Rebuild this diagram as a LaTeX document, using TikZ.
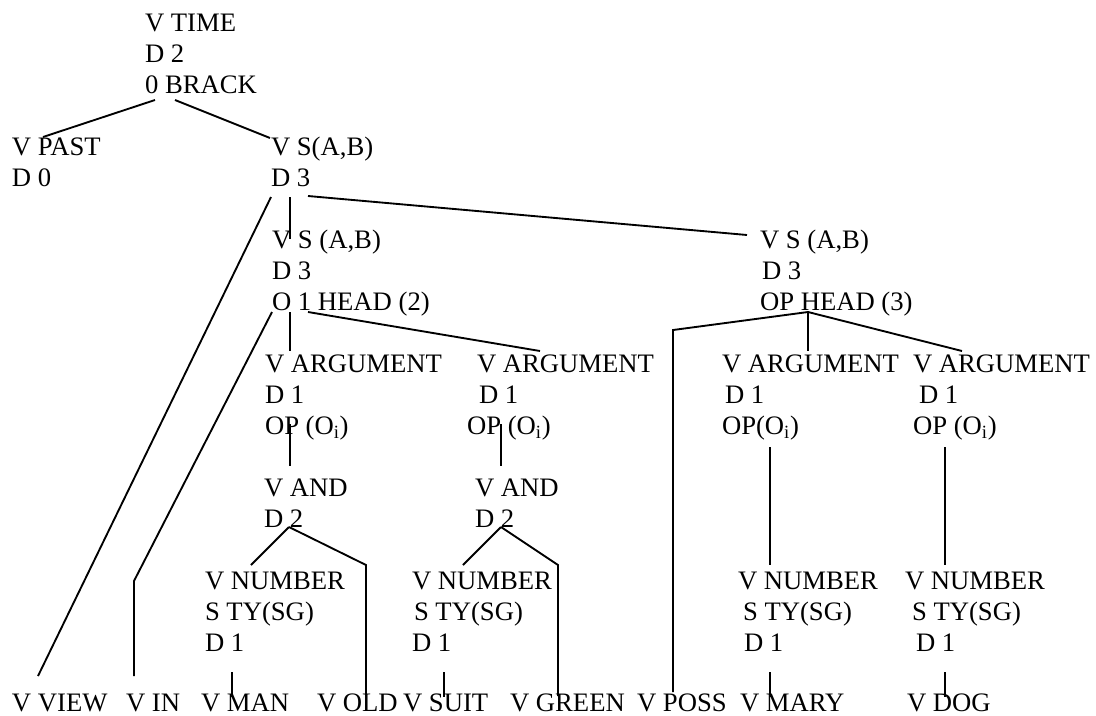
\documentclass[tikz,border=0pt]{standalone}
\usepackage{fontspec}
\setmainfont{Liberation Serif}
% one unit = one pixel of a 96 dpi page, y pointing down
\tikzset{
  lbl/.style={anchor=base west, inner sep=0pt, outer sep=0pt,
              font=\fontsize{20}{23.25}\selectfont},
  edge/.style={line width=1.4pt, line join=miter, line cap=butt}
}
% stacked lines of a tree node, baseline at the first line
\newcommand\stack[1]{\begin{tabular}[t]{@{}l@{}}#1\end{tabular}}
\newcommand\Oi{(O\textsubscript{i})}
\newcommand\px[1]{\hspace*{#1\dimexpr0.75pt\relax}}
\begin{document}
\begin{tikzpicture}[x=0.75pt, y=-0.75pt]
\useasboundingbox (0,0) rectangle (1096,715);

% ---- tree nodes (baselines on a 31px grid) ----
\node[lbl] (time) at (145,31)  {\stack{V TIME\\D 2\\0 BRACK}};
\node[lbl] (past) at (12,155)  {\stack{V PAST\\D 0}};
\node[lbl] (s1)   at (271,155) {\stack{V S(A,B)\\D 3}};
\node[lbl] (s2)   at (272,248) {\stack{V S (A,B)\\D 3\\O 1 HEAD (2)}};
\node[lbl] (s3)   at (760,248) {\stack{V S (A,B)\\\px{2}D 3\\OP HEAD (3)}};

\node[lbl] (arg1) at (265,372) {\stack{V ARGUMENT\\D 1\\OP \Oi}};
\node[lbl] (arg2) at (467,372) {\stack{\px{10}V ARGUMENT\\\px{12}D 1\\OP \Oi}};
\node[lbl] (arg3) at (722,372) {\stack{V ARGUMENT\\\px{3}D 1\\OP\Oi}};
\node[lbl] (arg4) at (913,372) {\stack{V ARGUMENT\\\px{6}D 1\\OP \Oi}};

\node[lbl] (and1) at (264,496) {\stack{V AND\\D 2}};
\node[lbl] (and2) at (475,496) {\stack{V AND\\D 2}};

\node[lbl] (num1) at (205,589) {\stack{V NUMBER\\S TY(SG)\\D 1}};
\node[lbl] (num2) at (412,589) {\stack{V NUMBER\\\px{2}S TY(SG)\\D 1}};
\node[lbl] (num3) at (738,589) {\stack{V NUMBER\\\px{5}S TY(SG)\\\px{6}D 1}};
\node[lbl] (num4) at (905,589) {\stack{V NUMBER\\\px{7}S TY(SG)\\\px{11}D 1}};

\node[lbl] (view)  at (12,711)  {V VIEW};
\node[lbl] (in)    at (126,711) {V IN};
\node[lbl] (man)   at (201,711) {V MAN};
\node[lbl] (old)   at (317,711) {V OLD};
\node[lbl] (suit)  at (403,711) {V SUIT};
\node[lbl] (green) at (510,711) {V GREEN};
\node[lbl] (poss)  at (637,711) {V POSS};
\node[lbl] (mary)  at (740,711) {V MARY};
\node[lbl] (dog)   at (907,711) {V DOG};

% ---- connector end points ----
\coordinate (time-a) at (155,100);  \coordinate (past-t) at (43,137);
\coordinate (time-b) at (175,100);  \coordinate (s1-t)   at (270,138);
\coordinate (s1-a)   at (271,197);  \coordinate (view-t) at (38,676);
\coordinate (s1-b)   at (290,197);  \coordinate (s2-t)   at (290,239);
\coordinate (s1-c)   at (308,196);  \coordinate (s3-t)   at (747,235);
\coordinate (s2-a)   at (272,312);  \coordinate (in-k)   at (134,581);
\coordinate (in-t)   at (134,676);
\coordinate (s2-b)   at (290,312);  \coordinate (arg1-t) at (290,351);
\coordinate (s2-c)   at (308,312);  \coordinate (arg2-t) at (540,351);
\coordinate (s3-b)   at (808,312);  \coordinate (poss-k) at (673,330);
\coordinate (poss-t) at (673,692);
\coordinate (arg3-t) at (808,351);  \coordinate (arg4-t) at (962,351);
\coordinate (arg1-b) at (290,424);  \coordinate (and1-t) at (290,466);
\coordinate (arg2-b) at (501,424);  \coordinate (and2-t) at (501,466);
\coordinate (arg3-b) at (770,447);  \coordinate (num3-t) at (770,565);
\coordinate (arg4-b) at (945,447);  \coordinate (num4-t) at (945,565);
\coordinate (and1-b) at (289,527);  \coordinate (num1-t) at (251,565);
\coordinate (old-k)  at (366,565);  \coordinate (old-t)  at (366,696);
\coordinate (and2-b) at (501,527);  \coordinate (num2-t) at (463,565);
\coordinate (green-k) at (558,565); \coordinate (green-t) at (558,696);
\coordinate (num1-b) at (232,672);  \coordinate (man-t)  at (232,697);
\coordinate (num2-b) at (444,672);  \coordinate (suit-t) at (444,697);
\coordinate (num3-b) at (770,672);  \coordinate (mary-t) at (770,697);
\coordinate (num4-b) at (945,672);  \coordinate (dog-t)  at (945,697);

% ---- connectors ----
\draw[edge] (time-a) -- (past-t);
\draw[edge] (time-b) -- (s1-t);
\draw[edge] (s1-a) -- (view-t);
\draw[edge] (s1-b) -- (s2-t);
\draw[edge] (s1-c) -- (s3-t);
\draw[edge] (s2-a) -- (in-k) -- (in-t);
\draw[edge] (s2-b) -- (arg1-t);
\draw[edge] (s2-c) -- (arg2-t);
\draw[edge] (s3-b) -- (poss-k) -- (poss-t);
\draw[edge] (s3-b) -- (arg3-t);
\draw[edge] (s3-b) -- (arg4-t);
\draw[edge] (arg1-b) -- (and1-t);
\draw[edge] (arg2-b) -- (and2-t);
\draw[edge] (arg3-b) -- (num3-t);
\draw[edge] (arg4-b) -- (num4-t);
\draw[edge] (and1-b) -- (num1-t);
\draw[edge] (and1-b) -- (old-k) -- (old-t);
\draw[edge] (and2-b) -- (num2-t);
\draw[edge] (and2-b) -- (green-k) -- (green-t);
\draw[edge] (num1-b) -- (man-t);
\draw[edge] (num2-b) -- (suit-t);
\draw[edge] (num3-b) -- (mary-t);
\draw[edge] (num4-b) -- (dog-t);
\end{tikzpicture}
\end{document}
